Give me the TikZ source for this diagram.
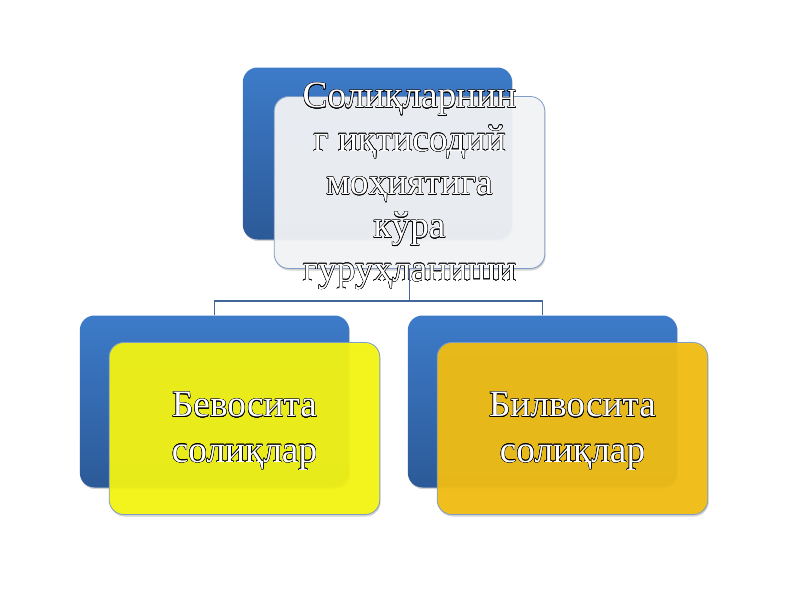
\documentclass[tikz,border=0pt]{standalone}
\usepackage{fontspec}
\setmainfont{Liberation Serif}
\usepackage{xcolor}
\usepackage{contour}
\usepackage{tikz}
\usetikzlibrary{positioning, shadows}
\contourlength{0.3pt}
\definecolor{backtop}{HTML}{3D7BC9}
\definecolor{backbot}{HTML}{2C5A98}
\definecolor{linkblue}{HTML}{41669C}
\definecolor{edgeblue}{HTML}{7E9CC6}
\definecolor{paper}{HTML}{F4F5F7}
\definecolor{lemon}{HTML}{F5F511}
\definecolor{amber}{HTML}{F3BE10}
\newcommand{\ol}[1]{\contour{black}{#1}}

\begin{document}
\begin{tikzpicture}[x=0.75pt, y=-0.75pt,
  back/.style={rounded corners=11pt, minimum width=202pt, minimum height=129pt, top color=backtop, bottom color=backbot, draw=none, drop shadow={shadow xshift=0.6pt, shadow yshift=-1.2pt, opacity=.35, fill=gray}},
  front/.style={rounded corners=11pt, minimum width=203pt, minimum height=129pt, draw=edgeblue, line width=0.6pt, fill opacity=0.93, drop shadow={shadow xshift=0.6pt, shadow yshift=-1.5pt, opacity=.35, fill=gray}},
  lbl/.style={text=white, align=center, font=\fontsize{28}{32.5}\selectfont},
  link/.style={draw=linkblue, line width=1.2pt}]
\useasboundingbox (0,0) rectangle (800,600);
% top
\node[back] at (377.5,153.5) (rootback) {};
\node[front, fill=paper] at ([shift={(32,29)}]rootback.center) (rootfront) {};
\node[lbl] at ([shift={(0,4)}]rootfront.center) (roottext) {\ol{Солиқларнин}\\ \ol{г иқтисодий}\\ \ol{моҳиятига}\\ \ol{кўра}\\ \ol{гуруҳланиши}};
% left
\node[back] at (214.5,401.5) (leftback) {};
\node[front, fill=lemon] at ([shift={(30,27)}]leftback.center) (leftfront) {};
\node[lbl, font=\fontsize{28}{34}\selectfont] at ([shift={(0,3)}]leftfront.center) (lefttext) {\ol{Бевосита}\\ \ol{солиқлар}};
% right
\node[back] at (542.5,401.5) (rightback) {};
\node[front, fill=amber] at ([shift={(30,27)}]rightback.center) (rightfront) {};
\node[lbl, font=\fontsize{28}{34}\selectfont] at ([shift={(0,3)}]rightfront.center) (righttext) {\ol{Билвосита}\\ \ol{солиқлар}};
% connectors
\draw[link] (rootfront.south) -- ++(0,32) -| (leftback.north);
\draw[link] (rootfront.south) -- ++(0,32) -| (rightback.north);
\end{tikzpicture}
\end{document}
